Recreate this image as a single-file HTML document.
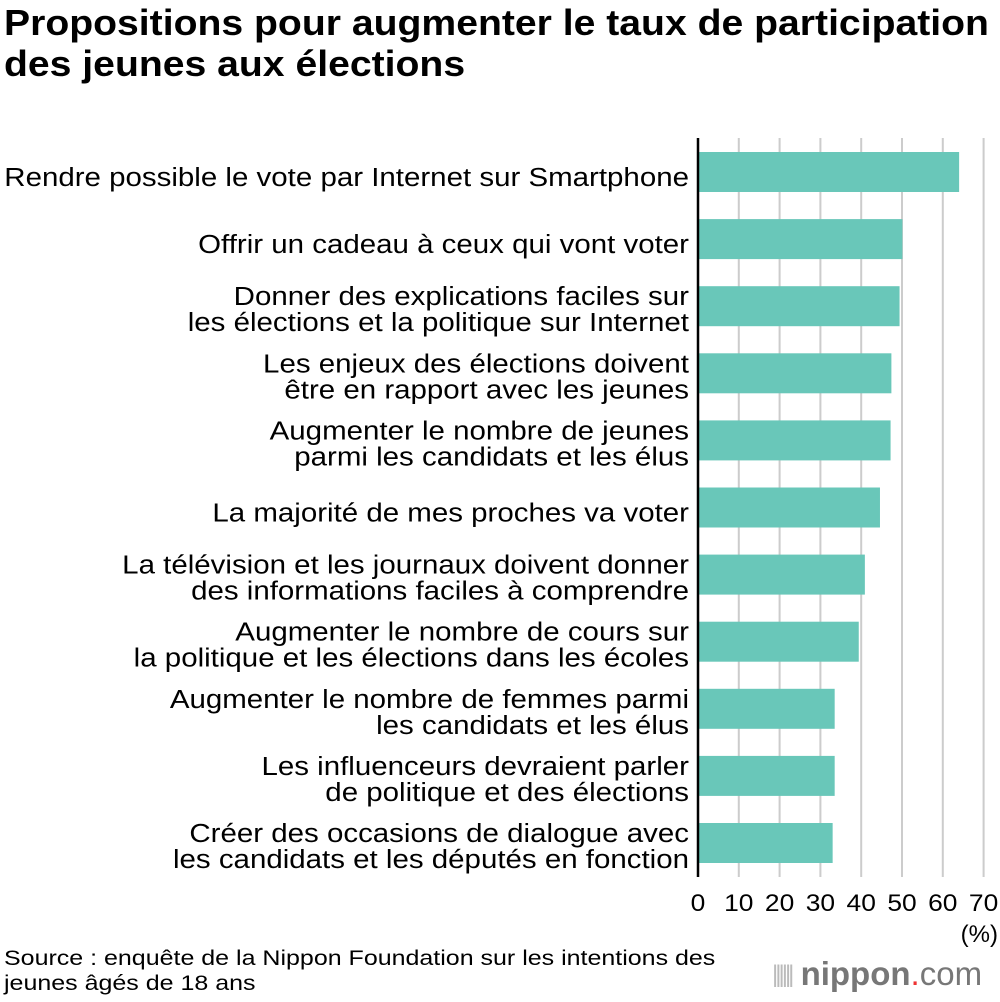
<!DOCTYPE html>
<html><head><meta charset="utf-8"><style>
body{margin:0;background:#fff;width:1000px;height:1002px;overflow:hidden;font-family:"Liberation Sans",sans-serif;}
.t{position:absolute;left:4px;top:2px;font-size:36px;font-weight:bold;line-height:41px;color:#000;white-space:nowrap;transform:scaleX(1.087);transform-origin:0 0}
.src{position:absolute;left:4px;top:946px;font-size:21px;line-height:25px;white-space:nowrap;transform:scaleX(1.19);transform-origin:0 0}
</style></head><body>
<div class="t">Propositions pour augmenter le taux de participation<br>des jeunes aux élections</div>
<svg id="c" width="1000" height="1002" style="position:absolute;left:0;top:0"></svg>
<div class="src">Source : enquête de la Nippon Foundation sur les intentions des<br>jeunes âgés de 18 ans</div>
<div style="position:absolute;left:772px;top:956px;font-size:33px;color:#777;line-height:36px;white-space:nowrap"><span style="color:#bbb;font-size:24px;letter-spacing:-3px;vertical-align:3px">||||||</span> <b>nippon</b><span style="color:#e33">.</span>com</div>
<script>
const categories=[["Rendre possible le vote par Internet sur Smartphone"],["Offrir un cadeau à ceux qui vont voter"],["Donner des explications faciles sur","les élections et la politique sur Internet"],["Les enjeux des élections doivent","être en rapport avec les jeunes"],["Augmenter le nombre de jeunes","parmi les candidats et les élus"],["La majorité de mes proches va voter"],["La télévision et les journaux doivent donner","des informations faciles à comprendre"],["Augmenter le nombre de cours sur","la politique et les élections dans les écoles"],["Augmenter le nombre de femmes parmi","les candidats et les élus"],["Les influenceurs devraient parler","de politique et des élections"],["Créer des occasions de dialogue avec","les candidats et les députés en fonction"]];
const values=[64.0,50.1,49.4,47.4,47.2,44.6,40.9,39.4,33.5,33.5,33.0];
const ticks=[0,10,20,30,40,50,60,70];
const svg=document.getElementById('c');const NS='http://www.w3.org/2000/svg';
const x0=698,pxPer=40.8/10;const x=v=>x0+v*pxPer;
const yc=i=>172+i*67.1;
function mk(t,a){const e=document.createElementNS(NS,t);for(const k in a)e.setAttribute(k,a[k]);svg.appendChild(e);return e;}
ticks.forEach(t=>{if(t>0){const g=mk('line',{x1:x(t),x2:x(t),y1:138,y2:877,stroke:'#ccc','stroke-width':2});

}
const l=mk('text',{x:x(t),y:911,'text-anchor':'middle','font-size':24,fill:'#000',transform:'translate('+x(t)+',0) scale(1.1,1) translate('+(-x(t))+',0)'});l.textContent=t;

});
const u=mk('text',{x:998,y:942,'text-anchor':'end','font-size':24});u.textContent='(%)';


values.forEach((v,i)=>{const r=mk('rect',{x:x0,y:yc(i)-20,width:x(v)-x0,height:40,fill:'#69c7b9'});


const ls=categories[i];const t=mk('text',{x:689,'text-anchor':'end','font-size':26,fill:'#000',transform:'translate(689,0) scale(1.134,1) translate(-689,0)'});


const start=ls.length==1?yc(i)+14:yc(i)-1;
ls.forEach((s,j)=>{const sp=document.createElementNS(NS,'tspan');sp.setAttribute('x',689);sp.setAttribute('y',start+j*26);sp.textContent=s;t.appendChild(sp);});});
const ax=mk('line',{x1:x0,x2:x0,y1:138,y2:877,stroke:'#000','stroke-width':2.5});


</script>
</body></html>
